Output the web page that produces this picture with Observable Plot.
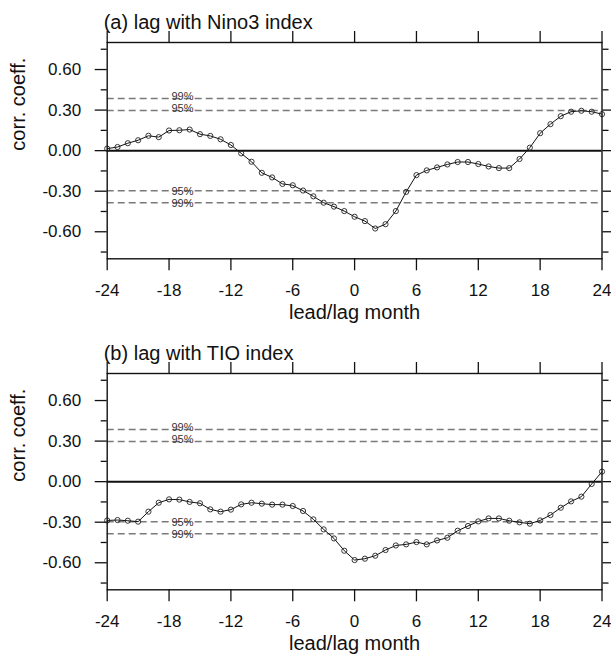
<!DOCTYPE html>
<html><head><meta charset="utf-8">
<script src="https://cdn.jsdelivr.net/npm/d3@7"></script>
<script src="https://cdn.jsdelivr.net/npm/@observablehq/plot@0.6"></script>
<style>
body{margin:0;background:#fff}
#chart{position:relative;width:611px;height:659px;font-family:"Liberation Sans",Arial,Helvetica,sans-serif}
#chart svg{display:block}
</style>
</head><body><div id="chart"></div>
<script>
const months = [-24,-23,-22,-21,-20,-19,-18,-17,-16,-15,-14,-13,-12,-11,-10,-9,-8,-7,-6,-5,-4,-3,-2,-1,0,1,2,3,4,5,6,7,8,9,10,11,12,13,14,15,16,17,18,19,20,21,22,23,24];
const corrNino3 = [0.015,0.027,0.055,0.077,0.110,0.100,0.149,0.151,0.156,0.122,0.109,0.084,0.042,-0.020,-0.082,-0.164,-0.198,-0.246,-0.256,-0.295,-0.338,-0.385,-0.414,-0.447,-0.489,-0.521,-0.576,-0.544,-0.447,-0.305,-0.181,-0.146,-0.124,-0.102,-0.084,-0.084,-0.099,-0.117,-0.129,-0.129,-0.062,0.022,0.129,0.196,0.255,0.288,0.295,0.288,0.270];
const corrTIO = [-0.287,-0.284,-0.289,-0.296,-0.222,-0.156,-0.131,-0.133,-0.150,-0.160,-0.205,-0.222,-0.207,-0.168,-0.156,-0.163,-0.170,-0.170,-0.180,-0.217,-0.279,-0.353,-0.420,-0.511,-0.580,-0.570,-0.548,-0.506,-0.472,-0.464,-0.447,-0.464,-0.435,-0.415,-0.363,-0.328,-0.294,-0.272,-0.272,-0.289,-0.301,-0.311,-0.287,-0.247,-0.193,-0.146,-0.111,-0.017,0.074];
const sigLevels = [0.386, 0.297, -0.297, -0.386];
const sigLabels = ["99%", "95%", "95%", "99%"];
const sigLabelMonth = -16.7;
const xTicks = [-24,-18,-12,-6,0,6,12,18,24];
const yMajor = [-0.6,-0.3,0,0.3,0.6];
const yMinor = [-0.75,-0.45,-0.15,0.15,0.45,0.75];
const titles = ["(a) lag with Nino3 index", "(b) lag with TIO index"];
const xLabel = "lead/lag month";
const yLabel = "corr. coeff.";

const font = '"Liberation Sans",Arial,Helvetica,sans-serif';

function panel(title, values, H) {
  const data = months.map((m, i) => ({m, r: values[i]}));
  const sig = sigLevels.map((v, i) => ({v, t: sigLabels[i]}));
  const sigPos = sig.filter(d => d.v > 0), sigNeg = sig.filter(d => d.v < 0);
  const axisStyle = {stroke: "#111", strokeWidth: 1.3, label: null};
  return Plot.plot({
    width: 611, height: H,
    marginLeft: 106.7, marginRight: 9.5, marginTop: 42, marginBottom: H - 258.3,
    style: {fontFamily: font, background: "white", color: "#111", overflow: "visible"},
    x: {domain: [-24, 24]},
    y: {domain: [-0.8, 0.8]},
    marks: [
      Plot.ruleY(sig, {y: "v", stroke: "#7a7a7a", strokeWidth: 1.5, strokeDasharray: "7,4"}),
      Plot.text(sigPos, {x: () => sigLabelMonth, y: "v", text: "t", fontSize: 11, fill: "#333", dy: -2}),
      Plot.text(sigNeg, {x: () => sigLabelMonth, y: "v", text: "t", fontSize: 11, fill: "#333", dy: 1}),
      Plot.ruleY([0], {stroke: "#111", strokeWidth: 2}),
      Plot.line(data, {x: "m", y: "r", stroke: "#111", strokeWidth: 1}),
      Plot.dot(data, {x: "m", y: "r", r: 2.6, stroke: "#222", fill: "none", strokeWidth: 0.9}),
      Plot.frame({stroke: "#111", strokeWidth: 1.4}),
      Plot.axisX({...axisStyle, anchor: "bottom", ticks: xTicks, tickSize: 12, tickPadding: 13, tickFormat: d => String(d), fontSize: 17}),
      Plot.axisX({...axisStyle, anchor: "top", ticks: xTicks, tickSize: 12, tickFormat: () => ""}),
      Plot.axisY({...axisStyle, anchor: "left", ticks: yMajor, tickSize: 12, tickPadding: 14, tickFormat: d => d.toFixed(2), fontSize: 17}),
      Plot.axisY({...axisStyle, anchor: "left", ticks: yMinor, tickSize: 6, tickFormat: () => ""}),
      Plot.axisY({...axisStyle, anchor: "right", ticks: yMajor, tickSize: 12, tickFormat: () => ""}),
      Plot.axisY({...axisStyle, anchor: "right", ticks: yMinor, tickSize: 6, tickFormat: () => ""}),
      Plot.text([yLabel], {frameAnchor: "left", rotate: -90, dx: -88.5, fontSize: 20, fill: "#111"}),
      Plot.text([xLabel], {frameAnchor: "bottom", dy: 60, fontSize: 20, fill: "#111"}),
      Plot.text([title], {frameAnchor: "top-left", textAnchor: "start", dx: -3.5, dy: -27.5, fontSize: 20, fill: "#111"})
    ]
  });
}

const chart = document.getElementById("chart");
chart.appendChild(panel(titles[0], corrNino3, 331));
chart.appendChild(panel(titles[1], corrTIO, 328));
</script>
</body></html>
